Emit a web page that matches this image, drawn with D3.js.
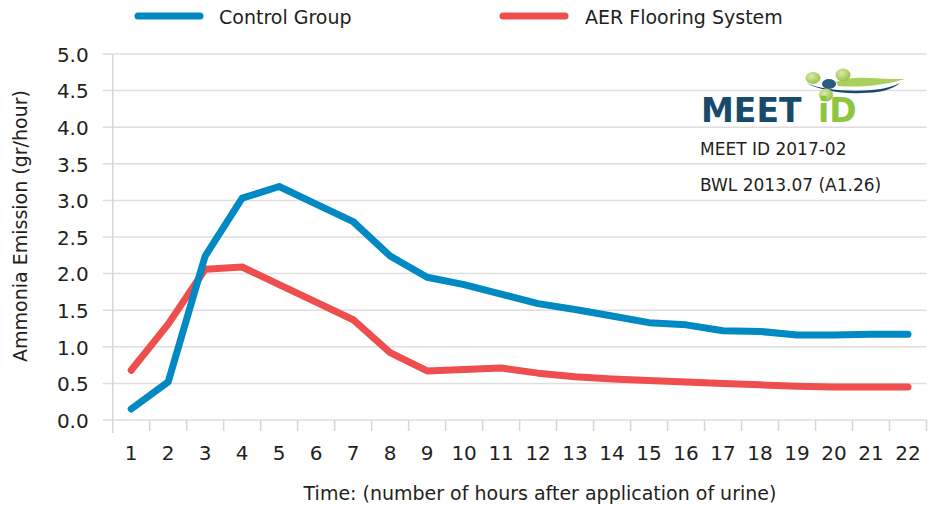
<!DOCTYPE html>
<html>
<head>
<meta charset="utf-8">
<script src="https://cdn.jsdelivr.net/npm/d3@7"></script>
<style>
  body { margin: 0; background: #fff; }
  svg { display: block; }
  text { font-family: "DejaVu Sans", sans-serif; }
</style>
</head>
<body>
<div id="chart"></div>
<script>
// data
const hours = [1, 2, 3, 4, 5, 6, 7, 8, 9, 10, 11, 12, 13, 14, 15, 16, 17, 18, 19, 20, 21, 22];
const controlGroup = [0.15, 0.52, 2.24, 3.03, 3.19, 2.95, 2.71, 2.24, 1.95, 1.85, 1.72, 1.59, 1.51, 1.42, 1.33, 1.30, 1.22, 1.21, 1.16, 1.16, 1.17, 1.17];
const aerFlooring = [0.68, 1.31, 2.06, 2.09, 1.85, 1.61, 1.37, 0.92, 0.67, 0.69, 0.71, 0.64, 0.59, 0.56, 0.54, 0.52, 0.50, 0.48, 0.46, 0.45, 0.45, 0.45];
const yTicks = [0, 0.5, 1, 1.5, 2, 2.5, 3, 3.5, 4, 4.5, 5];
const seriesNames = ["Control Group", "AER Flooring System"];
const noteLines = ["MEET ID 2017-02", "BWL 2013.07 (A1.26)"];

const width = 938, height = 509;
const margin = {top: 54, right: 11.5, bottom: 89, left: 112.7};
const textColor = "#231f20";
const colors = {"Control Group": "#0089c3", "AER Flooring System": "#ef4e4f"};

const svg = d3.select("#chart").append("svg")
  .attr("width", width)
  .attr("height", height);

const x = d3.scaleBand()
  .domain(hours)
  .range([margin.left, width - margin.right])
  .padding(0);

const y = d3.scaleLinear()
  .domain([0, 5])
  .range([height - margin.bottom, margin.top]);

// grid lines
svg.append("g")
  .selectAll("line")
  .data(yTicks)
  .join("line")
  .attr("x1", margin.left - 10)
  .attr("x2", width - margin.right)
  .attr("y1", d => y(d))
  .attr("y2", d => y(d))
  .attr("stroke", "#dedede")
  .attr("stroke-width", 1.5);

// y axis labels
const yAxis = svg.append("g")
  .attr("transform", `translate(${margin.left - 24},0)`)
  .call(d3.axisLeft(y).tickValues(yTicks).tickFormat(d3.format(".1f")).tickSize(0));
yAxis.select(".domain").remove();
yAxis.selectAll("text")
  .attr("x", 0)
  .attr("dy", "0.36em")
  .style("font-size", "20px")
  .style("fill", textColor);

// vertical axis line
svg.append("line")
  .attr("x1", margin.left).attr("x2", margin.left)
  .attr("y1", margin.top).attr("y2", y(0) + 13)
  .attr("stroke", "#d6d6d6")
  .attr("stroke-width", 1.5);

// x ticks at band boundaries
svg.append("g")
  .selectAll("line")
  .data(hours)
  .join("line")
  .attr("x1", d => x(d) + x.bandwidth())
  .attr("x2", d => x(d) + x.bandwidth())
  .attr("y1", y(0))
  .attr("y2", y(0) + 11)
  .attr("stroke", "#d6d6d6")
  .attr("stroke-width", 1.5);

// x axis labels
const xAxis = svg.append("g")
  .attr("transform", `translate(0,${y(0)})`)
  .call(d3.axisBottom(x).tickSize(0));
xAxis.select(".domain").remove();
xAxis.selectAll("text")
  .attr("y", 40)
  .attr("dy", 0)
  .style("font-size", "20px")
  .style("fill", textColor);

// axis titles
svg.append("text")
  .attr("x", 540)
  .attr("y", 500)
  .attr("text-anchor", "middle")
  .style("font-size", "19px")
  .style("fill", textColor)
  .text("Time: (number of hours after application of urine)");

svg.append("text")
  .attr("transform", "translate(27,226) rotate(-90)")
  .attr("text-anchor", "middle")
  .style("font-size", "19px")
  .style("fill", textColor)
  .text("Ammonia Emission (gr/hour)");

// lines
const line = d3.line()
  .x((d, i) => x(hours[i]) + x.bandwidth() / 2)
  .y(d => y(d));

[[seriesNames[1], aerFlooring], [seriesNames[0], controlGroup]].forEach(([name, values]) => {
  svg.append("path")
    .datum(values)
    .attr("fill", "none")
    .attr("stroke", colors[name])
    .attr("stroke-width", 7)
    .attr("stroke-linejoin", "round")
    .attr("stroke-linecap", "round")
    .attr("d", line);
});

// legend
const legendPos = [{x: 138, tx: 219}, {x: 503, tx: 585}];
seriesNames.forEach((name, i) => {
  const g = svg.append("g");
  g.append("line")
    .attr("x1", legendPos[i].x).attr("x2", legendPos[i].x + 62)
    .attr("y1", 16).attr("y2", 16)
    .attr("stroke", colors[name])
    .attr("stroke-width", 7)
    .attr("stroke-linecap", "round");
  g.append("text")
    .attr("x", legendPos[i].tx)
    .attr("y", 24)
    .style("font-size", "19px")
    .style("fill", textColor)
    .text(name);
});

// logo
const defs = svg.append("defs");
const grad = defs.append("radialGradient").attr("id", "ball").attr("cx", "40%").attr("cy", "35%").attr("r", "65%");
grad.append("stop").attr("offset", "0%").attr("stop-color", "#d8ebaa");
grad.append("stop").attr("offset", "100%").attr("stop-color", "#97c24a");

const logo = svg.append("g");
logo.append("path")
  .attr("d", "M806,83 C822,90 850,92 872,90 C884,89 894,86 900,83 C892,90 878,93 862,93 C842,94 822,91 806,83 Z")
  .attr("fill", "#1b4a6b");
logo.append("path")
  .attr("d", "M836,82 C856,74 878,80 905,79 C884,85 862,88 838,86 Z")
  .attr("fill", "#a9cf5c");
[[813, 78, 7.5, 6], [843, 75, 7.5, 6.5], [826, 95, 7, 6.5]].forEach(([cx, cy, rx, ry]) => {
  logo.append("ellipse").attr("cx", cx).attr("cy", cy).attr("rx", rx).attr("ry", ry).attr("fill", "url(#ball)");
});
logo.append("ellipse").attr("cx", 829).attr("cy", 84).attr("rx", 7).attr("ry", 5).attr("fill", "#2b5c7d");
logo.append("text")
  .attr("x", 701).attr("y", 122)
  .style("font-size", "33px").style("font-weight", "bold")
  .style("fill", "#174a6b")
  .text("MEET");
logo.append("text")
  .attr("x", 818).attr("y", 122)
  .style("font-size", "33px").style("font-weight", "bold")
  .style("fill", "#8dc63f")
  .text("iD");

noteLines.forEach((t, i) => {
  svg.append("text")
    .attr("x", 700)
    .attr("y", 155 + i * 35.5)
    .style("font-size", "17px")
    .style("fill", textColor)
    .text(t);
});
</script>
</body>
</html>
